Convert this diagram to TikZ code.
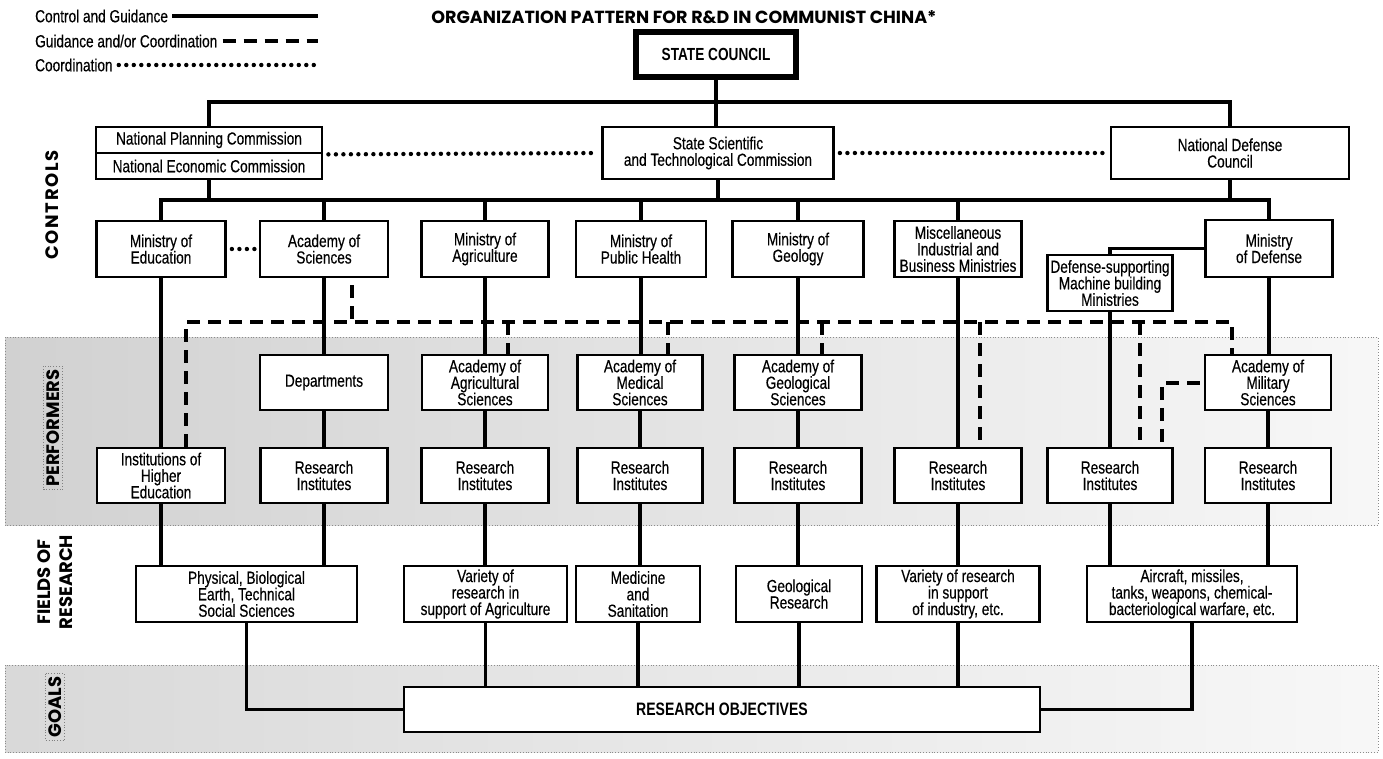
\documentclass[tikz,border=0pt]{standalone}
\usepackage{fontspec}
\setmainfont{Liberation Sans}[FakeStretch=0.78, UprightFeatures={FakeBold=0.35}]
\newfontfamily\titlefont{Poppins}
\newcommand\bxfont{\fontsize{17.5}{16.5}\selectfont}
\newcommand\sidefont{\titlefont\bfseries\fontsize{18}{22}\selectfont}
\begin{document}
\begin{tikzpicture}[x=1pt,y=-1pt,
  box/.style={draw, line width=2.8pt, fill=white, align=center, font=\bxfont, inner sep=1pt},
  wh/.style 2 args={minimum width=#1, minimum height=#2},
  cg/.style={line width=3.6pt},
  gc/.style={line width=4pt, dash pattern=on 13pt off 8pt},
  co/.style={line width=4.4pt, line cap=round, dash pattern=on 0pt off 7.5pt},
  region/.style={draw=black!45, line width=0.8pt, dotted},
  side/.style={font=\sidefont, rotate=90, align=center, inner sep=3pt},
  lg/.style={font=\bxfont, anchor=west, inner sep=0pt}
]
\useasboundingbox (0,0) rectangle (1383,758);
% shaded bands
\shade[left color=black!18, right color=black!3] (5,337) rectangle (1378,525);
\draw[region] (5,337) rectangle (1378,525);
\shade[left color=black!15, right color=black!3] (5,665) rectangle (1378,752);
\draw[region] (5,665) rectangle (1378,752);

% legend and title
\node[lg] (lg1) at (35,16) {Control and Guidance};
\node[lg] (lg2) at (35,41) {Guidance and/or Coordination};
\node[lg] (lg3) at (35,65) {Coordination};
\coordinate (lgend) at (318,0);
\draw[cg, shorten <=4pt] (lg1.east) -- (lg1.east -| lgend);
\draw[gc, shorten <=5pt] (lg2.east) -- (lg2.east -| lgend);
\draw[co, shorten <=6pt] (lg3.east) -- (lg3.east -| lgend);
\node (title) at (684,17) {\titlefont\bfseries\fontsize{17.5}{20}\selectfont ORGANIZATION PATTERN FOR R\&D IN COMMUNIST CHINA*};

% side labels
\node[side, font=\sidefont\addfontfeature{LetterSpace=9}] (lctrl) at (52,205) {CONTROLS};
\node[side, draw=black!50, dotted, line width=0.8pt] (lperf) at (53,428) {PERFORMERS};
\node[side] (lfields) at (55,582) {FIELDS OF\\RESEARCH};
\node[side, draw=black!50, dotted, line width=0.8pt] (lgoals) at (55,707) {GOALS};

% top
\node[box, wh={160}{45}, line width=5.5pt, font=\bxfont\bfseries] (SC) at (716,54.5) {STATE COUNCIL};
\node[box, wh={226}{26}] (NPC) at (209,140) {National Planning Commission};
\node[box, wh={226}{26}] (NEC) at (209,166) {National Economic Commission};
\node[box, wh={231}{52}] (SSTC) at (718,153) {State Scientific\\and Technological Commission};
\node[box, wh={238}{52}] (NDC) at (1230,153) {National Defense\\Council};

% ministries
\node[box, wh={129}{56}] (ME) at (161,249) {Ministry of\\Education};
\node[box, wh={128}{56}] (AS) at (324,249) {Academy of\\Sciences};
\node[box, wh={127}{56}] (MA) at (485,249) {Ministry of\\Agriculture};
\node[box, wh={130}{56}] (MPH) at (641,249) {Ministry of\\Public Health};
\node[box, wh={131}{56}] (MG) at (798,249) {Ministry of\\Geology};
\node[box, wh={127}{56}] (Misc) at (958,249) {Miscellaneous\\Industrial and\\Business Ministries};
\node[box, wh={127}{57}] (MoD) at (1269,248.5) {Ministry\\of Defense};
\node[box, wh={125}{56}] (DS) at (1110,283) {Defense-supporting\\Machine building\\Ministries};

% performers
\node[box, wh={128}{55}] (Dept) at (324,382.5) {Departments};
\node[box, wh={126}{55}] (AAS) at (485,382.5) {Academy of\\Agricultural\\Sciences};
\node[box, wh={125}{55}] (AMS) at (640,382.5) {Academy of\\Medical\\Sciences};
\node[box, wh={127}{55}] (AGS) at (798,382.5) {Academy of\\Geological\\Sciences};
\node[box, wh={126}{55}] (AMilS) at (1268,382.5) {Academy of\\Military\\Sciences};

\node[box, wh={128}{55}] (IHE) at (161,475.5) {Institutions of\\Higher\\Education};
\node[box, wh={127}{55}] (RI2) at (324,475.5) {Research\\Institutes};
\node[box, wh={127}{55}] (RI3) at (485,475.5) {Research\\Institutes};
\node[box, wh={125}{55}] (RI4) at (640,475.5) {Research\\Institutes};
\node[box, wh={127}{55}] (RI5) at (798,475.5) {Research\\Institutes};
\node[box, wh={127}{55}] (RI6) at (958,475.5) {Research\\Institutes};
\node[box, wh={125}{55}] (RI7) at (1110,475.5) {Research\\Institutes};
\node[box, wh={126}{55}] (RI8) at (1268,475.5) {Research\\Institutes};

% fields
\node[box, wh={221}{56}] (PBE) at (246.5,594) {Physical, Biological\\Earth, Technical\\Social Sciences};
\node[box, wh={163}{56}] (VRA) at (485.5,594) {Variety of\\research in\\support of Agriculture};
\node[box, wh={124}{56}] (MS) at (638,594) {Medicine\\and\\Sanitation};
\node[box, wh={126}{56}] (GR) at (799,594) {Geological\\Research};
\node[box, wh={163}{56}] (VRI) at (958,594) {Variety of research\\in support\\of industry, etc.};
\node[box, wh={210}{56}] (AMW) at (1192,594) {Aircraft, missiles,\\tanks, weapons, chemical-\\bacteriological warfare, etc.};

% goals
\node[box, wh={636}{45}, font=\fontsize{18}{18}\selectfont\bfseries] (RO) at (722,709.5) {RESEARCH OBJECTIVES};

% control and guidance
\coordinate (bar1) at (716,102);
\coordinate (bar2) at (716,200);
\draw[cg] (NPC.north) |- (bar1) -| (NDC.north);
\draw[cg] (SC.south) -- (SC.south |- SSTC.north);
\draw[cg] (ME.north) |- (bar2) -| (MoD.north);
\draw[cg] (NEC.south) -- (NEC.south |- bar2);
\draw[cg] (SSTC.south) -- (SSTC.south |- bar2);
\draw[cg] (NDC.south) -- (NDC.south |- bar2);
\foreach \n in {AS,MA,MPH,MG,Misc} \draw[cg] (\n.north) -- (\n.north |- bar2);
\draw[cg] (MoD.west) -| (DS.north);

\draw[cg] (ME.south) -- (IHE.north);
\draw[cg] (IHE.south) -- (IHE.south |- PBE.north);
\draw[cg] (AS.south) -- (Dept.north);
\draw[cg] (Dept.south) -- (RI2.north);
\draw[cg] (RI2.south) -- (RI2.south |- PBE.north);
\draw[cg] (MA.south) -- (AAS.north);
\draw[cg] (AAS.south) -- (RI3.north);
\draw[cg] (RI3.south) -- (RI3.south |- VRA.north);
\draw[cg] (MPH.south) -- (MPH.south |- AMS.north);
\draw[cg] (AMS.south) -- (RI4.north);
\draw[cg] (RI4.south) -- (RI4.south |- MS.north);
\draw[cg] (MG.south) -- (AGS.north);
\draw[cg] (AGS.south) -- (RI5.north);
\draw[cg] (RI5.south) -- (RI5.south |- GR.north);
\draw[cg] (Misc.south) -- (RI6.north);
\draw[cg] (RI6.south) -- (VRI.north);
\draw[cg] (DS.south) -- (RI7.north);
\draw[cg] (RI7.south) -- (RI7.south |- AMW.north);
\draw[cg] (MoD.south) -- (MoD.south |- AMilS.north);
\draw[cg] (AMilS.south) -- (RI8.north);
\draw[cg] (RI8.south) -- (RI8.south |- AMW.north);

\draw[cg] (PBE.south) |- (RO.west);
\draw[cg] (VRA.south) -- (VRA.south |- RO.north);
\draw[cg] (MS.south) -- (MS.south |- RO.north);
\draw[cg] (GR.south) -- (GR.south |- RO.north);
\draw[cg] (VRI.south) -- (VRI.south |- RO.north);
\draw[cg] (AMW.south) |- (RO.east);

% coordination (dotted)
\draw[co, shorten <=5pt, shorten >=3pt] (NPC.south east) -- (SSTC.west);
\draw[co, shorten <=5pt, shorten >=3pt] (SSTC.east) -- (NDC.west);
\draw[co, shorten <=5pt, shorten >=3pt] (ME.east) -- (AS.west);

% guidance and/or coordination (dashed)
\coordinate (dL) at (186,322);
\coordinate (dR) at (1232,322);
\coordinate (dA) at (352,322);
\coordinate (d3) at (508,322);
\coordinate (d4) at (668,322);
\coordinate (d5) at (822,322);
\coordinate (d6) at (980,322);
\coordinate (d7) at (1140,322);
\coordinate (d7b) at (1162,322);
\draw[gc] (IHE.north -| dL) -- (dL) -- (dR) -- (AMilS.north -| dR);
\draw[gc, shorten <=7pt] (AS.south -| dA) -- (dA);
\draw[gc] (d3) -- (AAS.north -| d3);
\draw[gc] (d4) -- (AMS.north -| d4);
\draw[gc] (d5) -- (AGS.north -| d5);
\draw[gc] (d6) -- (RI6.north -| d6);
\draw[gc] (d7) -- (RI7.north -| d7);
\draw[gc, shorten <=4pt] (AMilS.west) -| (RI7.north -| d7b);
\end{tikzpicture}
\end{document}
